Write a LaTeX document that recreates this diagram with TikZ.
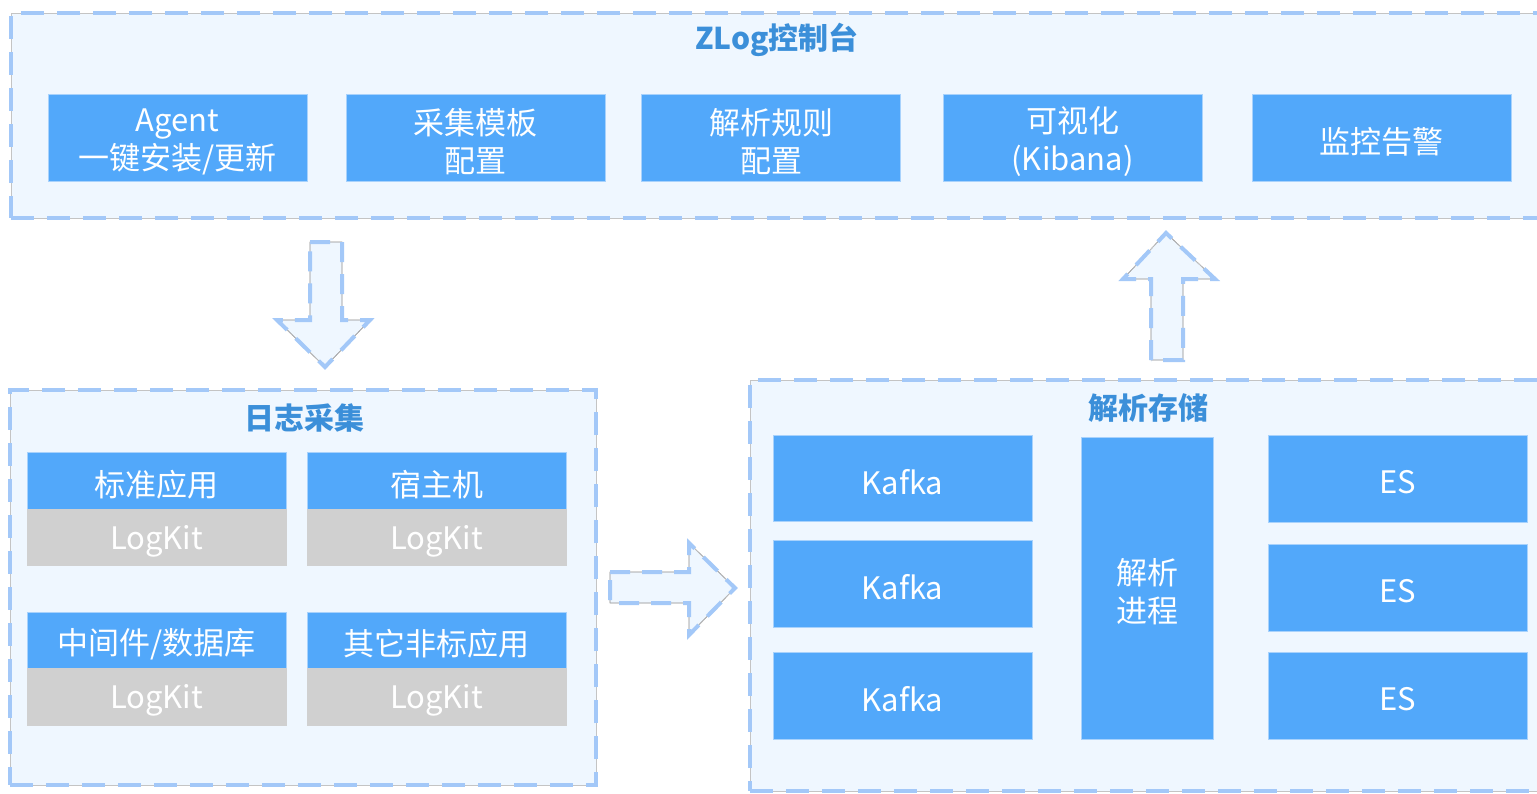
\documentclass[tikz,border=0pt]{standalone}
\usepackage{fontspec}
\setmainfont{Noto Sans CJK SC}
\definecolor{boxblue}{HTML}{52A8FA}
\definecolor{boxedge}{HTML}{A8D2FC}
\definecolor{panelbg}{HTML}{EFF7FF}
\definecolor{dashblue}{HTML}{A3C8F8}
\definecolor{edgegray}{HTML}{C4C4C4}
\definecolor{titleblue}{HTML}{3B8FD9}
\definecolor{kitgray}{HTML}{D0D0D0}
\begin{document}
\begin{tikzpicture}[x=1pt,y=-1pt,
  panel/.style={fill=panelbg, inner sep=0pt,
    postaction={draw=edgegray, line width=0.8pt},
    postaction={draw=dashblue, line width=4.5pt, dash pattern=on 23pt off 13pt}},
  bigarrow/.style={fill=panelbg,
    postaction={draw=edgegray, line width=0.8pt},
    postaction={draw=dashblue, line width=4pt, dash pattern=on 20pt off 12pt}},
  boxtext/.style={text=white, font=\fontsize{31}{38}\selectfont, align=center,
    inner sep=0pt, yshift=-4pt},
  box/.style={draw=boxedge, line width=1pt, fill=boxblue, inner sep=0pt,
    minimum width=259pt, label={[boxtext]center:#1}},
  kit/.style={box=#1, fill=kitgray, draw=kitgray},
  ptitle/.style={text=titleblue, font=\fontsize{30}{34}\selectfont\bfseries, inner sep=0pt}
]
\useasboundingbox (0,0) rectangle (1537,793);
\fill[white] (0,0) rectangle (1537,793);

% panels
\node[panel, minimum width=1534pt, minimum height=205pt] (top) at (778,115.5) {};
\node[panel, minimum width=586pt, minimum height=395pt] (log) at (303,587.5) {};
\node[panel, minimum width=800pt, minimum height=411pt] (store) at (1150,585.5) {};

\node[ptitle] (ttop) at (777,40) {ZLog控制台};
\node[ptitle] (tlog) at (304,418) {日志采集};
\node[ptitle] (tstore) at (1148,408) {解析存储};

% top boxes
\node[box={Agent\\一键安装/更新}, minimum height=87pt] (agent) at (177.5,137.5) {};
\node[box={采集模板\\配置}, minimum height=87pt] (tpl) at (475.5,137.5) {};
\node[box={解析规则\\配置}, minimum height=87pt] (rule) at (771,137.5) {};
\node[box={可视化\\(Kibana)}, minimum height=87pt] (vis) at (1072.5,137.5) {};
\node[box={监控告警}, minimum height=87pt] (mon) at (1381.5,137.5) {};

% log collection
\node[box={标准应用}, minimum height=57pt] (app) at (156.5,480.5) {};
\node[kit={LogKit}, minimum height=56pt] (k1) at (156.5,537) {};
\node[box={宿主机}, minimum height=57pt] (host) at (436.5,480.5) {};
\node[kit={LogKit}, minimum height=56pt] (k2) at (436.5,537) {};
\node[box={中间件/数据库}, minimum height=56pt] (mid) at (156.5,640) {};
\node[kit={LogKit}, minimum height=57pt] (k3) at (156.5,696.5) {};
\node[box={其它非标应用}, minimum height=56pt] (other) at (436.5,640) {};
\node[kit={LogKit}, minimum height=57pt] (k4) at (436.5,696.5) {};

% storage
\node[box={Kafka}, minimum height=86pt] (kf1) at (902.5,478) {};
\node[box={Kafka}, minimum height=87pt] (kf2) at (902.5,583.5) {};
\node[box={Kafka}, minimum height=87pt] (kf3) at (902.5,695.5) {};
\node[box={解析\\进程}, minimum width=132pt, minimum height=302pt] (parse) at (1147,588) {};
\node[box={ES}, minimum height=87pt] (es1) at (1397.5,478.5) {};
\node[box={ES}, minimum height=87pt] (es2) at (1397.5,587.5) {};
\node[box={ES}, minimum height=87pt] (es3) at (1397.5,695.5) {};

% block arrows
\draw[bigarrow] (310,242) -- (342,242) -- (342,320) -- (370,320) -- (325,367) -- (277,320) -- (310,320) -- cycle;
\draw[bigarrow] (1151,360) -- (1151,279) -- (1123,279) -- (1166,233) -- (1215,279) -- (1183,279) -- (1183,360) -- cycle;
\draw[bigarrow] (610,572) -- (689,572) -- (689,543) -- (735,588) -- (689,635) -- (689,603) -- (610,603) -- cycle;
\end{tikzpicture}
\end{document}
